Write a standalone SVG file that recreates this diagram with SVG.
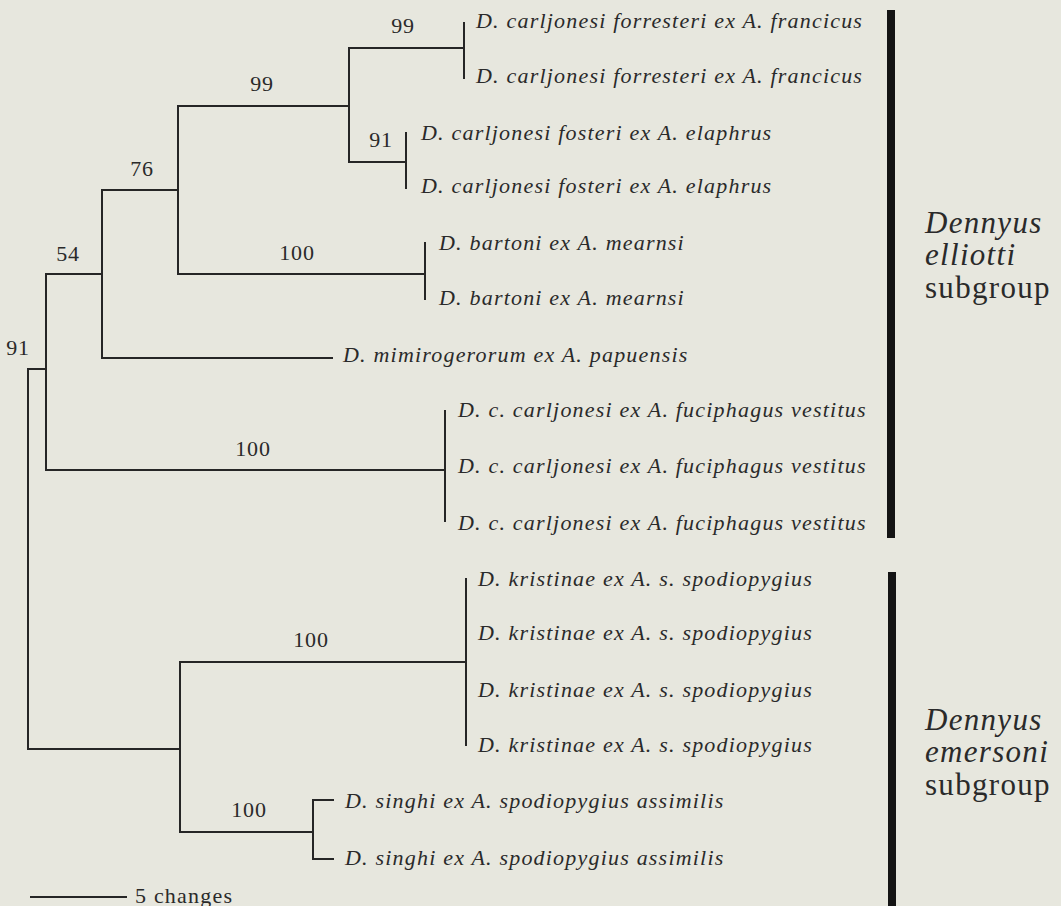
<svg xmlns="http://www.w3.org/2000/svg" width="1061" height="906" viewBox="0 0 1061 906">
<style>
.bg{fill:#e7e7de}
.br{fill:none;stroke:#262626;stroke-width:2;stroke-linecap:square}
.leaf{font-family:"Liberation Serif","Times New Roman",serif;font-style:italic;font-size:22px;letter-spacing:1.2px;fill:#2a2a2a}
.sup{font-family:"Liberation Serif","Times New Roman",serif;font-size:22px;letter-spacing:0.8px;fill:#2a2a2a;text-anchor:middle}
.grp{font-family:"Liberation Serif","Times New Roman",serif;font-size:31px;letter-spacing:1.3px;fill:#2a2a2a}
.it{font-style:italic}
.bar{fill:#141414}
</style>
<rect class="bg" x="0" y="0" width="1061" height="906"/>
<g id="connectors">
<path class="br" d="M28,369 V749 M28,369 H46"/>
<path class="br" d="M46,274 V470 M46,274 H102 M46,470 H445"/>
<path class="br" d="M102,190 V358 M102,190 H178 M102,358 H332"/>
<path class="br" d="M178,106 V274 M178,106 H349 M178,274 H425"/>
<path class="br" d="M349,48 V162 M349,48 H464 M349,162 H406"/>
<path class="br" d="M464,23 V78"/>
<path class="br" d="M406,133 V188"/>
<path class="br" d="M425,243 V299"/>
<path class="br" d="M445,411 V521"/>
<path class="br" d="M28,749 H180 M180,662 V832 M180,662 H466 M180,832 H313"/>
<path class="br" d="M466,579 V745"/>
<path class="br" d="M333,800 H313 V859 H333"/>
</g>
<g id="support-values">
<text class="sup" x="403" y="33">99</text>
<text class="sup" x="262" y="91">99</text>
<text class="sup" x="381" y="147">91</text>
<text class="sup" x="142" y="176">76</text>
<text class="sup" x="297" y="260">100</text>
<text class="sup" x="68" y="261">54</text>
<text class="sup" x="18" y="355">91</text>
<text class="sup" x="253" y="456">100</text>
<text class="sup" x="311" y="647">100</text>
<text class="sup" x="249" y="817">100</text>
</g>
<g id="leaf-forresteri-1"><text class="leaf" x="476" y="28">D. carljonesi forresteri ex A. francicus</text></g>
<g id="leaf-forresteri-2"><text class="leaf" x="476" y="83">D. carljonesi forresteri ex A. francicus</text></g>
<g id="leaf-fosteri-1"><text class="leaf" x="421" y="140">D. carljonesi fosteri ex A. elaphrus</text></g>
<g id="leaf-fosteri-2"><text class="leaf" x="421" y="193">D. carljonesi fosteri ex A. elaphrus</text></g>
<g id="leaf-bartoni-1"><text class="leaf" x="439" y="250">D. bartoni ex A. mearnsi</text></g>
<g id="leaf-bartoni-2"><text class="leaf" x="439" y="305">D. bartoni ex A. mearnsi</text></g>
<g id="leaf-mimirogerorum"><text class="leaf" x="343" y="362">D. mimirogerorum ex A. papuensis</text></g>
<g id="leaf-vestitus-1"><text class="leaf" x="458" y="417">D. c. carljonesi ex A. fuciphagus vestitus</text></g>
<g id="leaf-vestitus-2"><text class="leaf" x="458" y="473">D. c. carljonesi ex A. fuciphagus vestitus</text></g>
<g id="leaf-vestitus-3"><text class="leaf" x="458" y="530">D. c. carljonesi ex A. fuciphagus vestitus</text></g>
<g id="leaf-kristinae-1"><text class="leaf" x="478" y="586">D. kristinae ex A. s. spodiopygius</text></g>
<g id="leaf-kristinae-2"><text class="leaf" x="478" y="640">D. kristinae ex A. s. spodiopygius</text></g>
<g id="leaf-kristinae-3"><text class="leaf" x="478" y="697">D. kristinae ex A. s. spodiopygius</text></g>
<g id="leaf-kristinae-4"><text class="leaf" x="478" y="752">D. kristinae ex A. s. spodiopygius</text></g>
<g id="leaf-singhi-1"><text class="leaf" x="345" y="808">D. singhi ex A. spodiopygius assimilis</text></g>
<g id="leaf-singhi-2"><text class="leaf" x="345" y="865">D. singhi ex A. spodiopygius assimilis</text></g>
<g id="scale">
<path class="br" d="M31,897 H126"/>
<text class="leaf" x="135" y="903" style="font-style:normal">5 changes</text>
</g>
<g id="group-elliotti">
<rect class="bar" x="887" y="10" width="8" height="528"/>
<text class="grp"><tspan class="it" x="925" y="233">Dennyus</tspan><tspan class="it" x="925" y="265">elliotti</tspan><tspan x="925" y="298">subgroup</tspan></text>
</g>
<g id="group-emersoni">
<rect class="bar" x="888" y="572" width="8" height="334"/>
<text class="grp"><tspan class="it" x="925" y="730">Dennyus</tspan><tspan class="it" x="925" y="762">emersoni</tspan><tspan x="925" y="795">subgroup</tspan></text>
</g>
</svg>
